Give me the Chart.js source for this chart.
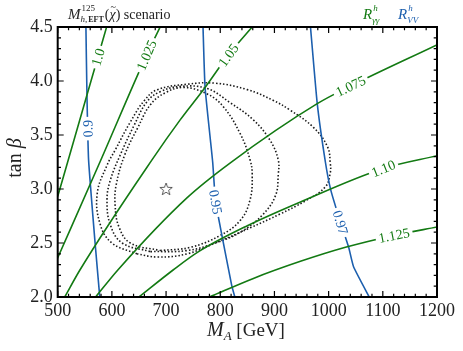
<!DOCTYPE html>
<html>
<head>
<meta charset="UTF-8">
<title>R_gamma-gamma / R_VV contours</title>
<script src="https://cdn.jsdelivr.net/npm/chart.js@4"></script>
<style>
  body { margin: 0; background: #fff; }
  #wrap { width: 463px; height: 351px; }
</style>
</head>
<body>
<div id="wrap"><canvas id="chart" width="463" height="351"></canvas></div>
<script>
// axis ticks
var xTicks = [500, 600, 700, 800, 900, 1000, 1100, 1200];
var yTicks = [2.0, 2.5, 3.0, 3.5, 4.0, 4.5];

// R_gamma-gamma contours, [M_A, tan beta]
var rgg1000 = [[500, 2.93], [554, 3.87], [592, 4.53]];
var rgg1025 = [[498, 2.34], [578, 3.25], [664, 4.24], [692, 4.53]];
var rgg1050 = [[513, 2.0], [541, 2.25], [674, 3.27], [726, 3.64], [772, 3.94], [815, 4.24], [864, 4.53]];
var rgg1075 = [[570, 2.0], [611, 2.25], [739, 2.92], [818, 3.24], [979, 3.79], [1035, 3.94], [1202, 4.34]];
var rgg1100 = [[650, 2.0], [713, 2.25], [760, 2.42], [850, 2.66], [948, 2.88], [1101, 3.19], [1202, 3.31]];
var rgg1125 = [[780, 2.0], [860, 2.17], [948, 2.33], [1031, 2.46], [1120, 2.57], [1202, 2.65]];

// R_VV contours
var rvv090 = [[552, 4.53], [554, 3.87], [557, 3.27], [569, 2.5], [578, 1.98]];
var rvv095 = [[768, 4.53], [772, 3.94], [786, 3.25], [791, 2.9], [800, 2.65], [821, 2.11], [828, 1.98]];
var rvv097 = [[966, 4.53], [979, 3.79], [994, 3.25], [1004, 2.99], [1022, 2.69], [1037, 2.46], [1046, 2.28], [1077, 1.98]];

// dotted closed contours
var dotOuter = [[646, 2.40], [684, 2.37], [739, 2.40], [800, 2.52], [855, 2.64], [911, 2.77], [957, 2.89], [994, 3.02],
  [1003, 3.15], [1003, 3.24], [998, 3.39], [972, 3.57], [929, 3.73], [898, 3.82], [850, 3.92], [790, 3.98], [739, 3.97],
  [684, 3.92], [660, 3.82], [634, 3.62], [606, 3.36], [591, 3.22], [573, 2.96], [578, 2.68], [600, 2.5], [646, 2.40]];
var dotMiddle = [[671, 2.42], [739, 2.43], [791, 2.50], [837, 2.60], [878, 2.76], [902, 2.94], [907, 3.13], [907, 3.27],
  [892, 3.45], [861, 3.64], [818, 3.80], [776, 3.93], [726, 3.95], [689, 3.90], [665, 3.81], [641, 3.59], [615, 3.31],
  [597, 3.08], [591, 2.90], [597, 2.67], [619, 2.50], [671, 2.42]];
var dotInner = [[689, 2.43], [745, 2.46], [800, 2.57], [837, 2.71], [855, 2.90], [859, 3.13], [855, 3.27], [837, 3.51],
  [806, 3.76], [776, 3.88], [732, 3.94], [698, 3.89], [671, 3.78], [648, 3.57], [624, 3.32], [608, 3.04], [606, 2.85],
  [613, 2.65], [634, 2.50], [689, 2.43]];

var bestFit = [[700, 3.0]];

var GREEN = '#137a13';
var BLUE = '#1c5fae';
var SERIF = '"Liberation Serif", "DejaVu Serif", serif';

// contour labels: text, series, approx position, flip reading direction
var contourLabels = [
  { text: '1.0', line: rgg1000, at: [575, 4.22], color: GREEN },
  { text: '1.025', line: rgg1025, at: [664, 4.24], color: GREEN },
  { text: '1.05', line: rgg1050, at: [815, 4.24], color: GREEN },
  { text: '1.075', line: rgg1075, at: [1040, 3.96], color: GREEN },
  { text: '1.10', line: rgg1100, at: [1101, 3.19], color: GREEN },
  { text: '1.125', line: rgg1125, at: [1120, 2.59], color: GREEN },
  { text: '0.9', line: rvv090, at: [558, 3.56], color: BLUE, flip: true },
  { text: '0.95', line: rvv095, at: [791, 2.88], color: BLUE },
  { text: '0.97', line: rvv097, at: [1022, 2.69], color: BLUE }
];

function pts(arr) { return arr.map(function (p) { return { x: p[0], y: p[1] }; }); }

function greenLine(arr) {
  return { data: pts(arr), showLine: true, borderColor: GREEN, borderWidth: 1.6, pointRadius: 0,
    cubicInterpolationMode: 'monotone', fill: false };
}
function blueLine(arr) {
  return { data: pts(arr), showLine: true, borderColor: BLUE, borderWidth: 1.6, pointRadius: 0, tension: 0.15, fill: false };
}
function dotted(arr) {
  return { data: pts(arr), showLine: true, borderColor: '#1a1a1a', borderWidth: 1.6, borderDash: [1.5, 2.0],
    pointRadius: 0, tension: 0.4, fill: false };
}

// open star marker
var star = document.createElement('canvas');
star.width = 16; star.height = 16;
(function () {
  var c = star.getContext('2d');
  c.beginPath();
  for (var i = 0; i < 10; i++) {
    var r = i % 2 === 0 ? 6.5 : 2.7;
    var a = -Math.PI / 2 + i * Math.PI / 5;
    var px = 8 + r * Math.cos(a), py = 8.5 + r * Math.sin(a);
    if (i === 0) c.moveTo(px, py); else c.lineTo(px, py);
  }
  c.closePath();
  c.strokeStyle = '#333';
  c.lineWidth = 0.8;
  c.stroke();
})();

var datasets = [
  greenLine(rgg1000), greenLine(rgg1025), greenLine(rgg1050),
  greenLine(rgg1075), greenLine(rgg1100), greenLine(rgg1125),
  blueLine(rvv090), blueLine(rvv095), blueLine(rvv097),
  dotted(dotOuter), dotted(dotMiddle), dotted(dotInner),
  { data: pts(bestFit), pointStyle: star, pointRadius: 8, showLine: false }
];

// labels sitting in gaps of the contour lines
var labelPlugin = {
  id: 'contourLabels',
  afterDatasetsDraw: function (chart) {
    var ctx = chart.ctx, xs = chart.scales.x, ys = chart.scales.y;
    contourLabels.forEach(function (lb) {
      var p = lb.line.map(function (q) { return [xs.getPixelForValue(q[0]), ys.getPixelForValue(q[1])]; });
      var tx = xs.getPixelForValue(lb.at[0]), ty = ys.getPixelForValue(lb.at[1]);
      var best = null;
      for (var i = 0; i < p.length - 1; i++) {
        var ax = p[i][0], ay = p[i][1], bx = p[i + 1][0], by = p[i + 1][1];
        var dx = bx - ax, dy = by - ay, L = dx * dx + dy * dy;
        var t = Math.max(0, Math.min(1, ((tx - ax) * dx + (ty - ay) * dy) / L));
        var cx = ax + t * dx, cy = ay + t * dy;
        var d = (cx - tx) * (cx - tx) + (cy - ty) * (cy - ty);
        if (!best || d < best.d) best = { d: d, x: cx, y: cy, ang: Math.atan2(dy, dx) };
      }
      var ang = best.ang;
      if (ang > Math.PI / 2) ang -= Math.PI;
      if (ang <= -Math.PI / 2) ang += Math.PI;
      if (lb.flip) ang += Math.PI;
      ctx.save();
      ctx.translate(best.x, best.y);
      ctx.rotate(ang);
      ctx.font = '14px ' + SERIF;
      var w = ctx.measureText(lb.text).width;
      ctx.fillStyle = '#fff';
      ctx.fillRect(-w / 2 - 3, -5, w + 6, 10);
      ctx.fillStyle = lb.color;
      ctx.textAlign = 'center';
      ctx.textBaseline = 'middle';
      ctx.fillText(lb.text, 0, 1);
      ctx.restore();
    });
  }
};

function put(ctx, txt, font, x, y) {
  ctx.font = font;
  ctx.fillText(txt, x, y);
  return ctx.measureText(txt).width;
}

// frame, inward ticks, title and legend texts
var framePlugin = {
  id: 'frame',
  afterDraw: function (chart) {
    var ctx = chart.ctx, a = chart.chartArea, xs = chart.scales.x, ys = chart.scales.y;
    ctx.save();
    ctx.strokeStyle = '#000';
    ctx.lineWidth = 1.2;
    ctx.beginPath();
    for (var m = xTicks[0]; m <= xTicks[xTicks.length - 1] + 0.1; m += 20) {
      var len = xTicks.indexOf(m) >= 0 ? 6 : 3.3;
      var x = xs.getPixelForValue(m);
      ctx.moveTo(x, a.bottom); ctx.lineTo(x, a.bottom - len);
      ctx.moveTo(x, a.top); ctx.lineTo(x, a.top + len);
    }
    for (var k = 0; k <= 25; k++) {
      var t = yTicks[0] + k * 0.1;
      var lenY = k % 5 === 0 ? 6 : 3.3;
      var y = ys.getPixelForValue(t);
      ctx.moveTo(a.left, y); ctx.lineTo(a.left + lenY, y);
      ctx.moveTo(a.right, y); ctx.lineTo(a.right - lenY, y);
    }
    ctx.stroke();
    ctx.lineWidth = 2;
    ctx.strokeRect(a.left, a.top, a.right - a.left, a.bottom - a.top);

    ctx.fillStyle = '#222';
    ctx.textBaseline = 'alphabetic';
    // title
    var x0 = 68;
    var w = put(ctx, 'M', 'italic 15px ' + SERIF, x0, 19);
    put(ctx, '125', '9px ' + SERIF, x0 + w + 1, 11);
    var s = put(ctx, 'h', 'italic 9px ' + SERIF, x0 + w, 22);
    s += put(ctx, ',', '9px ' + SERIF, x0 + w + s, 22);
    s += put(ctx, 'EFT', 'bold 8px ' + SERIF, x0 + w + s + 1, 22);
    x0 += w + s + 2;
    x0 += put(ctx, '(', '14px ' + SERIF, x0, 19);
    var cw = put(ctx, 'χ', 'italic 14px ' + SERIF, x0, 19);
    put(ctx, '~', '10px ' + SERIF, x0 + cw / 2 - 2, 10);
    x0 += cw;
    x0 += put(ctx, ')', '14px ' + SERIF, x0, 19);
    put(ctx, ' scenario', '14px ' + SERIF, x0, 19);

    // legend
    ctx.fillStyle = GREEN;
    var r = put(ctx, 'R', 'italic 15px ' + SERIF, 363, 19);
    put(ctx, 'h', 'italic 9px ' + SERIF, 363 + r + 1, 11);
    put(ctx, 'γγ', 'italic 9px ' + SERIF, 363 + r, 23);
    ctx.fillStyle = BLUE;
    r = put(ctx, 'R', 'italic 15px ' + SERIF, 398, 19);
    put(ctx, 'h', 'italic 9px ' + SERIF, 398 + r + 1, 11);
    put(ctx, 'VV', 'italic 9px ' + SERIF, 398 + r, 23);

    // axis titles
    ctx.fillStyle = '#222';
    var mx = 207;
    mx += put(ctx, 'M', 'italic 20px ' + SERIF, mx, 336);
    mx += put(ctx, 'A', 'italic 13px ' + SERIF, mx, 340);
    put(ctx, ' [GeV]', '19px ' + SERIF, mx, 336);

    ctx.translate(21, 158);
    ctx.rotate(-Math.PI / 2);
    ctx.font = '20px ' + SERIF;
    var w1 = ctx.measureText('tan ').width;
    ctx.font = 'italic 20px ' + SERIF;
    var w2 = ctx.measureText('β').width;
    put(ctx, 'tan ', '20px ' + SERIF, -(w1 + w2) / 2, 0);
    put(ctx, 'β', 'italic 20px ' + SERIF, -(w1 + w2) / 2 + w1, 0);
    ctx.restore();
  }
};

var tickFont = { family: SERIF, size: 18 };

new Chart(document.getElementById('chart').getContext('2d'), {
  type: 'scatter',
  data: { datasets: datasets },
  options: {
    responsive: false,
    devicePixelRatio: 1,
    animation: false,
    layout: { padding: { top: 27, right: 26, left: 0, bottom: 0 } },
    plugins: { legend: { display: false }, tooltip: { enabled: false } },
    scales: {
      x: {
        type: 'linear', min: 500, max: 1200,
        afterFit: function (s) { s.height = 54; },
        afterBuildTicks: function (s) { s.ticks = xTicks.map(function (v) { return { value: v }; }); },
        ticks: { font: tickFont, color: '#222', padding: 3, autoSkip: false, maxRotation: 0,
          callback: function (v) { return String(v); } },
        grid: { display: false, drawTicks: false },
        border: { display: false }
      },
      y: {
        type: 'linear', min: 2.0, max: 4.5,
        afterFit: function (s) { s.width = 57.7; },
        afterBuildTicks: function (s) { s.ticks = yTicks.map(function (v) { return { value: v }; }); },
        ticks: { font: tickFont, color: '#222', padding: 5, autoSkip: false,
          callback: function (v) { return v.toFixed(1); } },
        grid: { display: false, drawTicks: false },
        border: { display: false }
      }
    }
  },
  plugins: [labelPlugin, framePlugin]
});
</script>
</body>
</html>
